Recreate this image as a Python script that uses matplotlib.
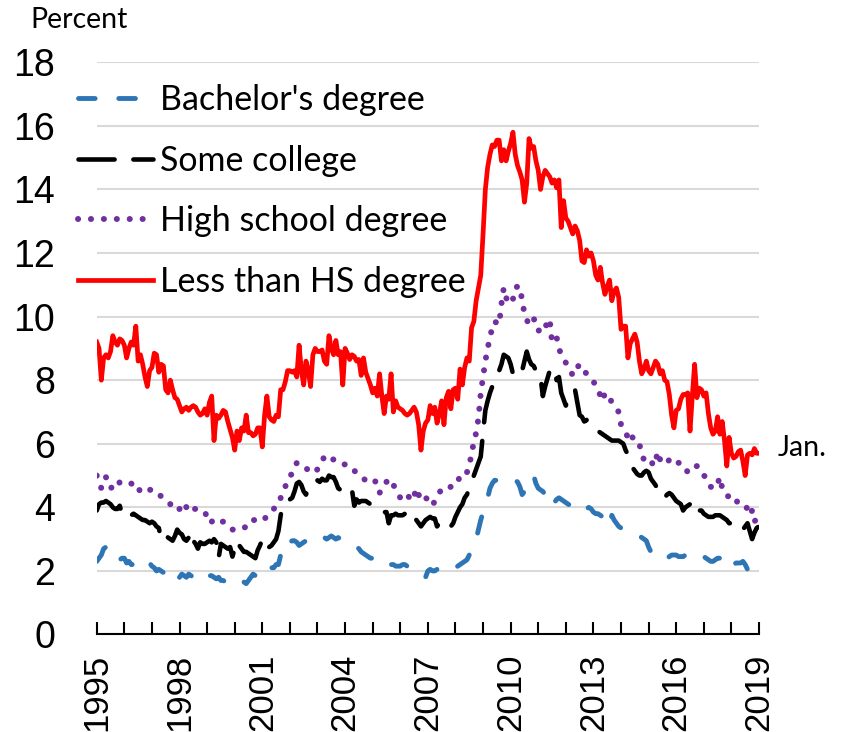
import numpy as np
import matplotlib
matplotlib.use("Agg")
import matplotlib.pyplot as plt
from matplotlib.ticker import FixedLocator

# monthly unemployment rates, Jan 1995 .. Jan 2019
bachelor = [
    2.3, 2.4, 2.5, 2.7, 2.75, 2.6, 2.5, 2.4, 2.35, 2.3, 2.35, 2.4,        # 1995
    2.4, 2.25, 2.3, 2.2, 2.2, 2.25, 2.2, 2.3, 2.25, 2.3, 2.3, 2.25,       # 1996
    2.15, 2.1, 2.0, 2.05, 2.0, 1.95, 2.0, 2.0, 2.0, 1.9, 1.85, 1.7,       # 1997
    1.8, 1.9, 1.85, 1.8, 1.9, 1.85, 1.8, 1.8, 1.75, 1.8, 1.9, 1.85,       # 1998
    1.9, 1.85, 1.85, 1.8, 1.75, 1.8, 1.7, 1.7, 1.65, 1.65, 1.7, 1.7,      # 1999
    1.75, 1.8, 1.75, 1.7, 1.65, 1.6, 1.7, 1.8, 1.9, 1.85, 1.75, 1.8,      # 2000
    1.8, 1.85, 2.0, 2.05, 2.1, 2.1, 2.2, 2.2, 2.5, 2.8, 2.95, 2.95,       # 2001
    2.9, 2.95, 2.95, 2.9, 2.8, 2.85, 2.9, 2.95, 2.9, 2.95, 2.95, 2.95,    # 2002
    3.0, 3.05, 3.1, 3.05, 3.0, 3.05, 3.1, 3.05, 3.0, 3.05, 3.0, 3.0,      # 2003
    2.95, 2.95, 2.9, 2.9, 2.85, 2.75, 2.7, 2.6, 2.55, 2.5, 2.45, 2.4,     # 2004
    2.4, 2.4, 2.4, 2.35, 2.35, 2.3, 2.2, 2.25, 2.2, 2.2, 2.15, 2.15,      # 2005
    2.15, 2.2, 2.2, 2.15, 2.1, 2.1, 2.1, 2.05, 2.0, 1.95, 1.9, 1.8,       # 2006
    2.0, 2.05, 2.0, 2.0, 2.05, 2.1, 2.1, 2.05, 2.1, 2.1, 2.15, 2.1,       # 2007
    2.1, 2.15, 2.2, 2.25, 2.3, 2.35, 2.5, 2.65, 2.8, 3.0, 3.3, 3.6,       # 2008
    3.85, 4.1, 4.3, 4.6, 4.75, 4.85, 4.85, 4.85, 4.9, 4.9, 4.9, 4.85,     # 2009
    4.9, 4.9, 4.85, 4.8, 4.65, 4.4, 4.5, 4.6, 4.7, 4.8, 5.0, 4.75,        # 2010
    4.6, 4.55, 4.5, 4.4, 4.5, 4.2, 4.2, 4.15, 4.25, 4.3, 4.25, 4.2,       # 2011
    4.15, 4.1, 4.05, 3.95, 4.0, 4.05, 4.0, 4.0, 3.95, 3.95, 4.0, 3.95,    # 2012
    3.85, 3.8, 3.8, 3.75, 3.7, 3.6, 3.5, 3.4, 3.75, 3.6, 3.5, 3.4,        # 2013
    3.35, 3.3, 3.25, 3.2, 3.15, 3.15, 3.1, 3.1, 3.1, 3.05, 3.0, 2.95,     # 2014
    2.75, 2.6, 2.5, 2.45, 2.45, 2.4, 2.35, 2.35, 2.4, 2.45, 2.5, 2.5,     # 2015
    2.5, 2.45, 2.45, 2.45, 2.5, 2.5, 2.55, 2.55, 2.6, 2.6, 2.55, 2.5,     # 2016
    2.45, 2.4, 2.35, 2.3, 2.3, 2.35, 2.4, 2.4, 2.3, 2.1, 2.15, 2.2,       # 2017
    2.2, 2.2, 2.25, 2.25, 2.25, 2.3, 2.2, 2.05, 2.0, 2.0, 2.05, 2.0,      # 2018
    2.0,                                                                  # 2019
]

some_college = [
    3.9, 4.1, 4.15, 4.15, 4.2, 4.15, 4.1, 4.0, 3.95, 3.95, 4.05, 3.8,     # 1995
    3.75, 3.85, 3.8, 3.75, 3.8, 3.75, 3.7, 3.65, 3.6, 3.6, 3.55, 3.5,     # 1996
    3.55, 3.5, 3.4, 3.35, 3.0, 3.1, 3.15, 3.05, 3.0, 2.95, 3.1, 3.3,      # 1997
    3.2, 3.15, 3.0, 2.95, 3.05, 2.75, 2.95, 2.85, 2.7, 2.9, 2.85, 2.85,   # 1998
    2.9, 2.95, 2.9, 3.0, 2.9, 2.4, 2.85, 2.8, 2.75, 2.7, 2.75, 2.45,      # 1999
    2.7, 2.95, 2.8, 2.7, 2.6, 2.6, 2.55, 2.5, 2.45, 2.4, 2.65, 2.8,       # 2000
    3.0, 2.75, 2.8, 2.75, 2.8, 2.9, 3.0, 3.25, 3.75, 4.1, 4.15, 4.2,      # 2001
    4.25, 4.3, 4.5, 4.75, 4.8, 4.7, 4.5, 4.4, 4.6, 4.65, 4.8, 4.8,        # 2002
    4.85, 4.8, 4.9, 4.85, 4.85, 5.0, 4.95, 4.95, 4.8, 4.6, 4.55, 4.5,     # 2003
    4.4, 4.45, 4.5, 4.55, 4.05, 4.25, 4.15, 4.2, 4.2, 4.2, 4.15, 4.1,     # 2004
    4.1, 4.05, 4.05, 3.95, 3.9, 3.85, 3.85, 3.5, 3.75, 3.75, 3.8, 3.75,   # 2005
    3.75, 3.75, 3.8, 3.85, 3.65, 3.7, 3.7, 3.6, 3.5, 3.4, 3.5, 3.6,       # 2006
    3.65, 3.7, 3.65, 3.65, 3.4, 3.5, 3.6, 3.55, 3.5, 3.45, 3.4, 3.5,      # 2007
    3.7, 3.85, 4.0, 4.1, 4.3, 4.4, 4.6, 4.8, 5.0, 5.2, 5.4, 5.6,          # 2008
    6.35, 7.05, 7.35, 7.6, 7.8, 8.0, 8.1, 8.3, 8.5, 8.8, 8.75, 8.7,       # 2009
    8.5, 8.2, 8.1, 8.1, 8.2, 8.3, 8.6, 8.9, 8.65, 8.5, 8.45, 8.3,         # 2010
    8.3, 8.1, 7.5, 7.8, 8.05, 8.3, 8.25, 8.35, 8.0, 8.1, 7.6, 7.4,        # 2011
    7.2, 7.45, 7.55, 7.6, 7.7, 7.3, 6.9, 6.85, 6.7, 6.75, 6.6, 6.5,       # 2012
    6.45, 6.45, 6.4, 6.35, 6.3, 6.25, 6.2, 6.15, 6.1, 6.1, 6.1, 6.1,      # 2013
    6.05, 6.0, 5.8, 5.65, 5.5, 5.25, 5.15, 5.05, 5.0, 5.0, 5.1, 5.15,     # 2014
    5.1, 4.9, 4.8, 4.7, 4.55, 4.45, 4.3, 4.3, 4.4, 4.45, 4.4, 4.3,        # 2015
    4.2, 4.15, 4.1, 3.9, 4.0, 4.05, 4.1, 4.1, 4.15, 3.85, 3.9, 3.9,       # 2016
    3.8, 3.75, 3.7, 3.7, 3.7, 3.75, 3.75, 3.75, 3.7, 3.65, 3.6, 3.5,      # 2017
    3.5, 3.45, 3.4, 3.35, 3.25, 3.3, 3.4, 3.5, 3.25, 3.0, 3.2, 3.35,      # 2018
    3.4,                                                                  # 2019
]

high_school = [
    5.0, 4.8, 4.6, 4.85, 4.95, 4.8, 4.6, 4.65, 4.6, 4.6, 4.8, 4.8,        # 1995
    4.8, 4.8, 4.8, 4.75, 4.7, 4.75, 4.6, 4.5, 4.5, 4.55, 4.6, 4.55,       # 1996
    4.55, 4.5, 4.5, 4.4, 4.35, 4.25, 4.2, 4.15, 4.1, 4.1, 4.0, 3.9,       # 1997
    3.95, 4.05, 4.15, 4.0, 3.85, 3.9, 3.95, 3.95, 3.95, 3.9, 3.85, 3.85,  # 1998
    3.7, 3.5, 3.55, 3.6, 3.65, 3.6, 3.55, 3.55, 3.5, 3.45, 3.35, 3.3,     # 1999
    3.3, 3.35, 3.35, 3.35, 3.35, 3.4, 3.4, 3.45, 3.6, 3.6, 3.55, 3.55,    # 2000
    3.6, 3.65, 3.7, 3.8, 3.9, 3.95, 4.05, 4.1, 4.3, 4.45, 4.65, 4.85,     # 2001
    5.0, 5.05, 5.25, 5.4, 5.4, 5.35, 5.3, 5.25, 5.15, 5.1, 5.1, 5.1,      # 2002
    5.2, 5.3, 5.45, 5.6, 5.65, 5.6, 5.55, 5.5, 5.45, 5.4, 5.4, 5.35,      # 2003
    5.35, 5.3, 5.2, 5.2, 5.15, 5.1, 5.0, 4.95, 4.9, 4.85, 4.8, 4.8,       # 2004
    4.85, 4.85, 4.6, 4.45, 4.6, 4.75, 4.8, 4.9, 4.85, 4.7, 4.6, 4.45,     # 2005
    4.3, 4.25, 4.35, 4.4, 4.3, 4.2, 4.35, 4.6, 4.4, 4.2, 4.25, 4.3,       # 2006
    4.25, 4.15, 4.05, 4.2, 4.35, 4.45, 4.6, 4.6, 4.6, 4.6, 4.65, 4.65,    # 2007
    4.7, 4.75, 5.05, 5.05, 5.1, 5.1, 5.3, 5.7, 6.05, 6.35, 6.8, 7.6,      # 2008
    8.1, 8.6, 9.0, 9.35, 9.65, 9.85, 9.8, 9.75, 10.4, 10.9, 10.6, 10.45,  # 2009
    10.4, 10.55, 10.9, 10.95, 10.95, 10.5, 10.1, 9.9, 9.75, 9.85, 9.95, 9.75,  # 2010
    9.55, 9.6, 9.8, 9.75, 9.7, 9.9, 9.2, 9.3, 9.35, 9.0, 8.8, 8.65,       # 2011
    8.55, 8.45, 8.3, 8.15, 8.35, 8.4, 8.5, 8.4, 8.3, 8.2, 8.1, 8.0,       # 2012
    7.95, 7.85, 7.75, 7.5, 7.35, 7.6, 7.5, 7.45, 7.3, 7.2, 7.1, 7.0,      # 2013
    6.6, 6.5, 6.35, 6.2, 6.35, 6.2, 6.05, 6.0, 6.0, 5.65, 5.5, 5.45,      # 2014
    5.5, 5.5, 5.3, 5.45, 5.75, 5.5, 5.45, 5.35, 5.4, 5.5, 5.45, 5.35,     # 2015
    5.35, 5.4, 5.4, 5.35, 5.25, 5.1, 5.15, 5.25, 5.25, 5.3, 5.15, 5.05,   # 2016
    5.0, 4.95, 4.8, 4.65, 4.6, 4.6, 4.75, 4.95, 4.6, 4.45, 4.35, 4.35,    # 2017
    4.4, 4.35, 4.25, 4.1, 4.1, 4.1, 4.05, 3.95, 3.75, 3.9, 3.55, 3.65,    # 2018
    3.8,                                                                  # 2019
]

less_than_hs = [
    9.2, 9.0, 8.0, 8.7, 8.8, 8.7, 8.9, 9.4, 9.2, 9.1, 9.3, 9.25,          # 1995
    9.1, 8.7, 9.0, 9.2, 9.1, 9.7, 8.6, 8.8, 8.5, 8.1, 7.8, 8.3,           # 1996
    8.4, 8.85, 8.8, 8.25, 8.5, 8.45, 7.7, 7.6, 8.0, 7.7, 7.45, 7.4,       # 1997
    7.2, 7.0, 7.1, 7.15, 7.05, 7.15, 7.2, 7.15, 7.0, 6.9, 6.95, 7.1,      # 1998
    6.9, 7.3, 7.5, 6.1, 6.9, 6.8, 6.9, 7.05, 7.0, 6.7, 6.45, 6.2,         # 1999
    5.8, 6.4, 6.1, 6.5, 6.4, 6.9, 6.35, 6.35, 6.25, 6.3, 6.5, 6.5,        # 2000
    5.9, 6.9, 7.5, 6.85, 6.75, 6.7, 6.9, 6.85, 7.7, 7.7, 7.95, 8.3,       # 2001
    8.3, 8.25, 8.3, 8.1, 9.1, 8.3, 7.85, 8.6, 8.3, 7.8, 8.8, 9.0,         # 2002
    8.9, 8.9, 8.95, 8.6, 8.5, 9.4, 9.0, 8.8, 9.25, 8.8, 8.9, 7.85,        # 2003
    9.0, 8.85, 8.65, 8.8, 8.75, 8.6, 8.65, 8.15, 8.7, 8.25, 8.05, 7.85,   # 2004
    7.6, 7.75, 7.5, 8.2, 7.5, 6.95, 7.5, 7.4, 8.2, 7.0, 7.35, 7.15,       # 2005
    7.1, 7.05, 6.95, 6.9, 6.95, 7.05, 7.15, 7.0, 6.6, 5.8, 6.4, 6.65,     # 2006
    6.75, 7.2, 6.95, 7.15, 6.65, 6.95, 7.35, 6.6, 7.45, 7.65, 7.1, 7.7,   # 2007
    7.75, 7.4, 8.35, 7.85, 8.4, 8.7, 8.6, 9.65, 9.85, 10.5, 10.9, 11.3,   # 2008
    12.6, 14.0, 14.7, 15.1, 15.4, 15.35, 15.55, 15.55, 14.9, 15.25, 14.9, 15.2,  # 2009
    15.45, 15.8, 15.1, 14.75, 14.55, 14.3, 13.6, 14.2, 15.6, 15.3, 15.35, 14.9,  # 2010
    14.6, 14.0, 14.4, 14.6, 14.5, 14.4, 14.2, 14.3, 14.05, 14.3, 12.8, 13.65,    # 2011
    13.1, 13.0, 12.8, 12.6, 12.85, 12.7, 12.4, 11.75, 11.7, 12.1, 11.9, 12.0,    # 2012
    11.75, 11.3, 11.15, 11.55, 11.05, 10.7, 10.95, 11.15, 10.5, 10.8, 10.9, 10.6,  # 2013
    9.6, 9.7, 9.7, 8.7, 9.15, 9.3, 9.45, 9.2, 8.6, 8.2, 8.35, 8.6,        # 2014
    8.3, 8.2, 8.4, 8.6, 8.5, 8.2, 8.3, 8.0, 7.95, 7.55, 6.9, 6.5,         # 2015
    7.05, 7.1, 7.4, 7.55, 7.55, 7.6, 6.4, 7.5, 8.5, 7.45, 7.75, 7.7,      # 2016
    7.5, 7.6, 6.95, 6.5, 6.3, 6.4, 6.85, 6.3, 6.7, 6.1, 5.3, 6.2,         # 2017
    5.7, 5.55, 5.6, 5.75, 5.8, 5.45, 5.0, 5.65, 5.7, 5.65, 5.85, 5.7,     # 2018
    5.7,                                                                  # 2019
]

series_labels = ["Bachelor's degree", "Some college", "High school degree",
                 "Less than HS degree"]
year_labels = list(range(1995, 2020, 3))

months = 1995 + np.arange(len(less_than_hs)) / 12.0

plt.rcParams["lines.scale_dashes"] = False
TEXT_FONT = ["Lato", "DejaVu Sans"]
TICK_FONT = ["Liberation Sans", "DejaVu Sans"]

fig = plt.figure(figsize=(8.47, 7.32), dpi=100)
ax = fig.add_axes([0.1142, 0.1332, 0.7819, 0.7817])

ax.plot(months, bachelor, color="#2e75b6", lw=3.5, linestyle=(0, (12.0, 17.0)),
        dash_capstyle="round", solid_joinstyle="round", label=series_labels[0])
ax.plot(months, some_college, color="black", lw=3.3, linestyle=(0, (26.0, 13.5)),
        dash_capstyle="round", solid_joinstyle="round", label=series_labels[1])
ax.plot(months, high_school, color="#7030a0", lw=4.3, linestyle=(0, (0.1, 9.2)),
        dash_capstyle="round", solid_joinstyle="round", label=series_labels[2])
ax.plot(months, less_than_hs, color="#ff0000", lw=3.4,
        solid_joinstyle="round", label=series_labels[3])

ax.set_xlim(1995, 2019)
ax.set_ylim(0, 18)
ax.set_yticks(range(0, 19, 2))
ax.grid(axis="y", color="#d9d9d9", lw=1.5)
ax.set_axisbelow(True)

for side in ["left", "right", "top"]:
    ax.spines[side].set_visible(False)
ax.spines["bottom"].set_linewidth(1.5)

ax.xaxis.set_major_locator(FixedLocator(year_labels))
ax.xaxis.set_minor_locator(FixedLocator(range(1995, 2020)))
ax.set_xticklabels([str(y) for y in year_labels], rotation=90,
                   fontsize=25, family=TICK_FONT)
ax.tick_params(axis="x", which="both", direction="in", length=8.5,
               width=1.5, color="black", pad=14)
ax.tick_params(axis="y", length=0, pad=30)
for lab in ax.get_yticklabels():
    lab.set_fontsize(27)
    lab.set_family(TICK_FONT)

leg = ax.legend(loc="upper left", bbox_to_anchor=(78 / 847, 1 - 84 / 732),
                bbox_transform=fig.transFigure, frameon=False,
                prop={"family": TEXT_FONT, "size": 24.5},
                handlelength=2.2, handletextpad=0.2, labelspacing=0.84,
                borderpad=0, borderaxespad=0)

fig.text(30 / 847, 1 - 28 / 732, "Percent", fontsize=20.5,
         family=TEXT_FONT, va="baseline")
ax.text(2019.69, 5.61, "Jan.", fontsize=20.5, family=TEXT_FONT,
        va="baseline", clip_on=False)

fig.savefig("out.png", dpi=100)
